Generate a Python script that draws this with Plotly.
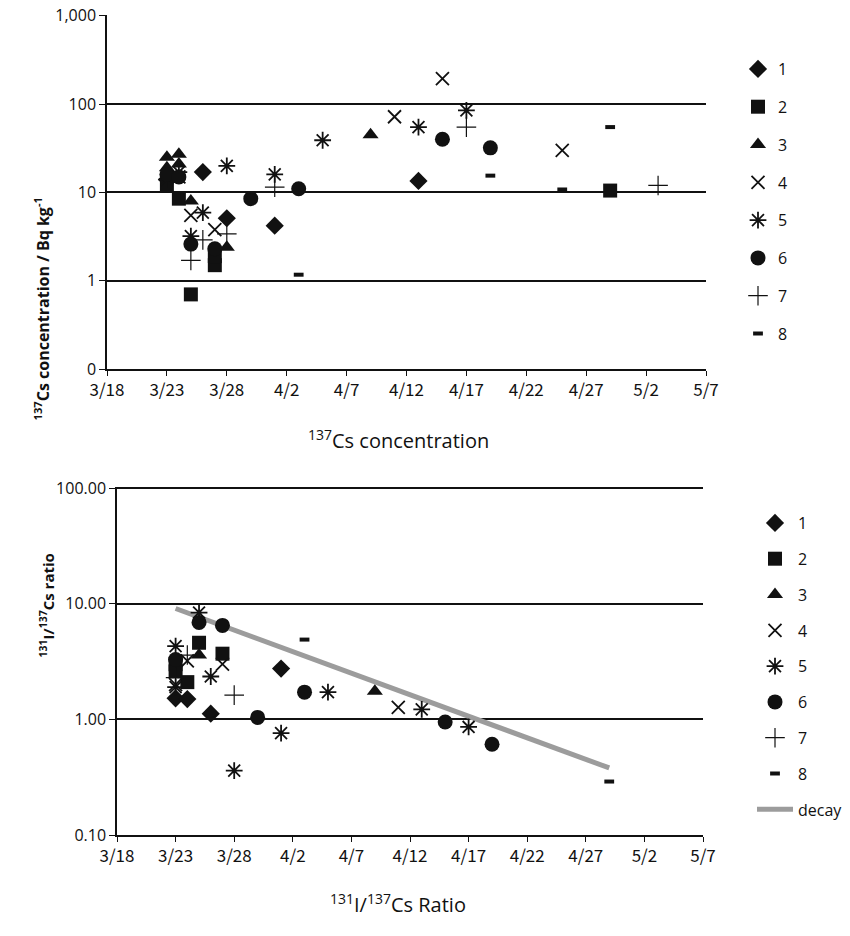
import plotly.graph_objects as go

# ---------------- data: top chart (137Cs concentration, Bq/kg) ----------------
cs_dates_1 = ["2011-03-23", "2011-03-26", "2011-03-28", "2011-04-01", "2011-04-13"]
cs_vals_1 = [14, 17, 5.1, 4.2, 13.5]
cs_dates_2 = ["2011-03-23", "2011-03-24", "2011-03-25", "2011-03-27", "2011-03-27", "2011-04-29"]
cs_vals_2 = [12, 8.5, 0.7, 1.5, 1.9, 10.5]
cs_dates_3 = ["2011-03-23", "2011-03-23", "2011-03-24", "2011-03-24", "2011-03-25", "2011-03-28", "2011-04-09"]
cs_vals_3 = [25, 19, 27, 21, 8, 2.4, 45]
cs_dates_4 = ["2011-03-24", "2011-03-25", "2011-03-27", "2011-04-11", "2011-04-15", "2011-04-25"]
cs_vals_4 = [15, 5.5, 3.8, 72, 195, 30]
cs_dates_5 = ["2011-03-23", "2011-03-24", "2011-03-25", "2011-03-26", "2011-03-28", "2011-04-01",
              "2011-04-05", "2011-04-13", "2011-04-17"]
cs_vals_5 = [14, 17, 3.2, 5.9, 20, 16, 39, 55, 85]
cs_dates_6 = ["2011-03-23", "2011-03-24", "2011-03-25", "2011-03-27", "2011-03-30", "2011-04-03",
              "2011-04-15", "2011-04-19"]
cs_vals_6 = [16, 15, 2.6, 2.3, 8.5, 11, 40, 32]
cs_dates_7 = ["2011-03-25", "2011-03-26", "2011-03-28", "2011-04-01", "2011-04-17", "2011-05-03"]
cs_vals_7 = [1.7, 2.9, 3.4, 11.5, 55, 12]
cs_dates_8 = ["2011-04-03", "2011-04-19", "2011-04-25", "2011-04-29"]
cs_vals_8 = [1.17, 15.5, 10.8, 55]

# ---------------- data: bottom chart (131I/137Cs ratio) ----------------
r_dates_1 = ["2011-03-23", "2011-03-24", "2011-03-26", "2011-04-01"]
r_vals_1 = [1.52, 1.5, 1.12, 2.75]
r_dates_2 = ["2011-03-23", "2011-03-23", "2011-03-24", "2011-03-25", "2011-03-27"]
r_vals_2 = [3.0, 2.6, 2.1, 4.6, 3.7]
r_dates_3 = ["2011-03-25", "2011-04-09"]
r_vals_3 = [3.6, 1.75]
r_dates_4 = ["2011-03-23", "2011-03-24", "2011-03-27", "2011-04-11"]
r_vals_4 = [2.0, 3.2, 3.0, 1.27]
r_dates_5 = ["2011-03-23", "2011-03-23", "2011-03-25", "2011-03-26", "2011-03-28", "2011-04-01",
             "2011-04-05", "2011-04-13", "2011-04-17"]
r_vals_5 = [4.3, 1.9, 8.4, 2.35, 0.36, 0.76, 1.72, 1.22, 0.86]
r_dates_6 = ["2011-03-23", "2011-03-25", "2011-03-27", "2011-03-30", "2011-04-03", "2011-04-15", "2011-04-19"]
r_vals_6 = [3.3, 6.9, 6.5, 1.04, 1.72, 0.95, 0.61]
r_dates_7 = ["2011-03-23", "2011-03-24", "2011-03-28"]
r_vals_7 = [2.3, 3.6, 1.62]
r_dates_8 = ["2011-04-03", "2011-04-29"]
r_vals_8 = [4.9, 0.29]
decay_dates = ["2011-03-23", "2011-04-29"]
decay_vals = [9.1, 0.38]

series_names = ["1", "2", "3", "4", "5", "6", "7", "8"]
x_tick_dates = ["2011-03-18", "2011-03-23", "2011-03-28", "2011-04-02", "2011-04-07", "2011-04-12",
                "2011-04-17", "2011-04-22", "2011-04-27", "2011-05-02", "2011-05-07"]
x_tick_text = ["3/18", "3/23", "3/28", "4/2", "4/7", "4/12", "4/17", "4/22", "4/27", "5/2", "5/7"]
top_y_tickvals = [0.1, 1, 10, 100, 1000]
top_y_ticktext = ["0", "1", "10", "100", "1,000"]
bot_y_tickvals = [0.1, 1, 10, 100]
bot_y_ticktext = ["0.10", "1.00", "10.00", "100.00"]

# ---------------- styles ----------------
BLACK = "#111111"
sym = {
    "1": dict(symbol="diamond", size=14, color=BLACK),
    "2": dict(symbol="square", size=14, color=BLACK),
    "3": dict(symbol="triangle-up", size=14, color=BLACK),
    "4": dict(symbol="x-thin-open", size=13, color=BLACK, line=dict(width=1.8, color=BLACK)),
    "5": dict(symbol="asterisk-open", size=14, color=BLACK, line=dict(width=1.8, color=BLACK)),
    "6": dict(symbol="circle", size=15, color=BLACK),
    "7": dict(symbol="cross-thin-open", size=14, color=BLACK, line=dict(width=1.2, color=BLACK)),
    "8": dict(symbol="line-ew-open", size=7, color=BLACK, line=dict(width=4, color=BLACK)),
}

fig = go.Figure()

top_data = [(cs_dates_1, cs_vals_1), (cs_dates_2, cs_vals_2), (cs_dates_3, cs_vals_3), (cs_dates_4, cs_vals_4),
            (cs_dates_5, cs_vals_5), (cs_dates_6, cs_vals_6), (cs_dates_7, cs_vals_7), (cs_dates_8, cs_vals_8)]
bot_data = [(r_dates_1, r_vals_1), (r_dates_2, r_vals_2), (r_dates_3, r_vals_3), (r_dates_4, r_vals_4),
            (r_dates_5, r_vals_5), (r_dates_6, r_vals_6), (r_dates_7, r_vals_7), (r_dates_8, r_vals_8)]

for name, (d, v) in zip(series_names, top_data):
    fig.add_trace(go.Scatter(x=d, y=v, mode="markers", name=name, marker=sym[name],
                             xaxis="x", yaxis="y", legend="legend", legendgroup="t" + name))

fig.add_trace(go.Scatter(x=decay_dates, y=decay_vals, mode="lines", name="decay",
                         line=dict(color="#9c9c9c", width=5), xaxis="x2", yaxis="y2",
                         legend="legend2", legendgroup="bdecay", showlegend=False))
for name, (d, v) in zip(series_names, bot_data):
    fig.add_trace(go.Scatter(x=d, y=v, mode="markers", name=name, marker=sym[name],
                             xaxis="x2", yaxis="y2", legend="legend2", legendgroup="b" + name))
# legend entry for decay (placed last)
fig.add_trace(go.Scatter(x=[None], y=[None], mode="lines", name="decay",
                         line=dict(color="#9c9c9c", width=5), xaxis="x2", yaxis="y2",
                         legend="legend2", legendgroup="bdecay2"))

# page body has an 8px margin: the figure is drawn 8px right/down of the window corner
OFF = 8
W, H = 850 - OFF, 936 - OFF


def px(x):
    return (x - OFF) / W


def py(y):
    return 1 - (y - OFF) / H


xfont = dict(family="Noto Sans CJK JP, Liberation Sans, sans-serif", size=17, color=BLACK)
yfont = dict(family="Open Sans, Liberation Sans, sans-serif", size=16, color=BLACK)

common_x = dict(type="date", range=["2011-03-18", "2011-05-07"], tickvals=x_tick_dates, ticktext=x_tick_text,
                showline=True, linecolor=BLACK, linewidth=1.5, ticks="outside", ticklen=5, tickcolor=BLACK,
                showgrid=False, zeroline=False, tickfont=xfont, automargin=False, ticklabeloverflow="allow")
common_y = dict(type="log", showline=True, linecolor=BLACK, linewidth=1.5, ticks="outside", ticklen=6,
                tickcolor=BLACK, showgrid=True, gridcolor=BLACK, gridwidth=1.8, zeroline=False, tickfont=yfont,
                automargin=False, ticklabeloverflow="allow")

fig.update_layout(
    width=W, height=H,
    margin=dict(l=0, r=0, t=0, b=0, pad=0, autoexpand=False),
    paper_bgcolor="white", plot_bgcolor="white",
    xaxis=dict(domain=[px(107), px(706)], anchor="y", **common_x),
    yaxis=dict(domain=[py(369), py(15)], anchor="x", range=[-1, 3.01],
               tickvals=top_y_tickvals, ticktext=top_y_ticktext, **common_y),
    xaxis2=dict(domain=[px(117), px(703)], anchor="y2", **common_x),
    yaxis2=dict(domain=[py(835), py(487)], anchor="x2", range=[-1, 2.01],
                tickvals=bot_y_tickvals, ticktext=bot_y_ticktext, **common_y),
    legend=dict(x=px(738), y=py(52), xanchor="left", yanchor="top", traceorder="grouped",
                tracegroupgap=14, itemwidth=30, bgcolor="rgba(0,0,0,0)",
                font=dict(family="Open Sans, Liberation Sans, sans-serif", size=16, color=BLACK)),
    legend2=dict(x=px(752), y=py(506), xanchor="left", yanchor="top", traceorder="grouped",
                 tracegroupgap=12, itemwidth=36, bgcolor="rgba(0,0,0,0)",
                 font=dict(family="Open Sans, Liberation Sans, sans-serif", size=16, color=BLACK)),
    showlegend=True,
    annotations=[
        dict(text="<b><sup>137</sup>Cs concentration / Bq kg<sup>-1</sup></b>", textangle=-90,
             x=px(28), y=py(196), xref="paper", yref="paper", showarrow=False,
             font=dict(family="Open Sans, Liberation Sans, sans-serif", size=16, color=BLACK)),
        dict(text="<b><sup>131</sup>I/<sup>137</sup>Cs ratio</b>", textangle=-90,
             x=px(34), y=py(660), xref="paper", yref="paper", showarrow=False,
             font=dict(family="Open Sans, Liberation Sans, sans-serif", size=15, color=BLACK)),
        dict(text="<sup>137</sup>Cs concentration", x=px(398), y=py(440), xref="paper", yref="paper",
             showarrow=False, font=dict(family="Open Sans, Liberation Sans, sans-serif", size=20, color=BLACK)),
        dict(text="<sup>131</sup>I/<sup>137</sup>Cs Ratio", x=px(398), y=py(920), xref="paper", yref="paper",
             showarrow=False, font=dict(family="Open Sans, Liberation Sans, sans-serif", size=20, color=BLACK)),
    ],
)

fig.write_html("out.html")
